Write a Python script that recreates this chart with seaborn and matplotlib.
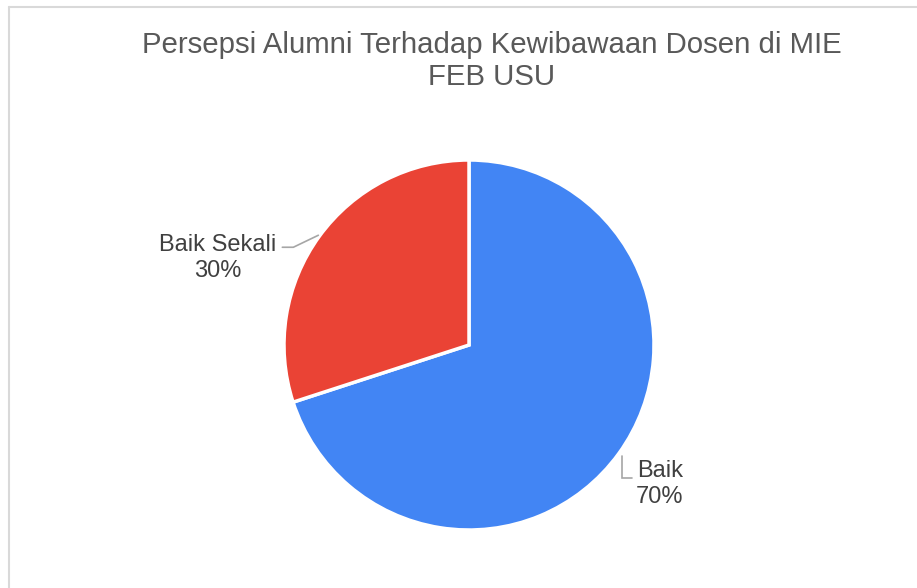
import numpy as np
import matplotlib
matplotlib.use("Agg")
import matplotlib.pyplot as plt
import seaborn as sns

title = "Persepsi Alumni Terhadap Kewibawaan Dosen di MIE\nFEB USU"
categories = ["Baik", "Baik Sekali"]
values = [70, 30]
colors = ["#4285F4", "#EA4335"]

sns.set_theme(style="white")
plt.rcParams['font.family'] = ['Liberation Sans', 'DejaVu Sans']

W, H = 917, 588
fig = plt.figure(figsize=(W / 100, H / 100), dpi=100)
ax = fig.add_axes([0, 0, 1, 1])

cx, cy, r = 469, H - 345, 185
wedges, _ = ax.pie(values, colors=colors, startangle=90, counterclock=False,
                   radius=r, center=(cx, cy), frame=True,
                   wedgeprops=dict(edgecolor="white", linewidth=2.5))
ax.set_xlim(0, W)
ax.set_ylim(0, H)
ax.set_aspect("equal")
ax.axis("off")

# borders (top and left, screenshot crop)
fig.add_artist(plt.Line2D([9 / W, 9 / W], [0, 1 - 7 / H], color="#d9d9d9", lw=1.5))
fig.add_artist(plt.Line2D([9 / W, 1], [1 - 7 / H, 1 - 7 / H], color="#d9d9d9", lw=1.5))

fig.text(492 / W, 1 - 61 / H, title, ha="center", va="center", fontsize=21.2,
         color="#595959", linespacing=1.17)

lc = "#a6a6a6"
tc = "#404040"
for w, cat, v in zip(wedges, categories, values):
    ang = np.deg2rad((w.theta1 + w.theta2) / 2)
    px, py = cx + r * np.cos(ang), cy + r * np.sin(ang)
    if np.cos(ang) > 0:
        xs = [px + 3, px + 3, px + 13]
        ys = [py - 2, py - 24, py - 24]
        ax.plot(xs, ys, color=lc, lw=1.2, solid_joinstyle="miter")
        ax.text(px + 41, py - 30, f"{cat}\n{v}%", ha="center", va="center",
                fontsize=17, color=tc, linespacing=1.25)
    else:
        xs = [px - 1, px - 26, px - 37]
        ys = [py + 1, py - 11, py - 11]
        ax.plot(xs, ys, color=lc, lw=1.2)
        ax.text(px - 102, py - 22, f"{cat}\n{v}%", ha="center", va="center",
                fontsize=17, color=tc, linespacing=1.25)

fig.savefig("out.png", dpi=100, facecolor="white")
